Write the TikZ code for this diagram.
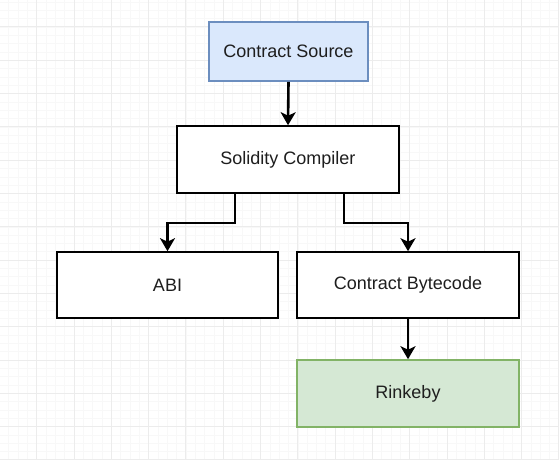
\documentclass[tikz,border=0pt]{standalone}
\usepackage{fontspec}
\setmainfont{Liberation Sans}
\usetikzlibrary{arrows.meta}
\definecolor{blueF}{HTML}{DAE8FC}
\definecolor{blueD}{HTML}{6C8EBF}
\definecolor{greenF}{HTML}{D5E8D4}
\definecolor{greenD}{HTML}{82B366}
\definecolor{gridMaj}{HTML}{ECECEC}
\definecolor{gridMin}{HTML}{F8F8F8}
\definecolor{txt}{HTML}{1E1E1E}
\tikzset{
  box/.style={draw=black, line width=1.6pt, fill=white, rectangle, inner sep=0pt,
    text=txt, font=\fontsize{18}{22}\selectfont},
  arr/.style={draw=black, line width=2.6pt,
    -{Stealth[length=13pt,width=15pt,inset=3.5pt]}},
}
\begin{document}
\begin{tikzpicture}[x=1pt,y=-1pt]
\useasboundingbox (0,0) rectangle (559,460);
\fill[white] (0,0) rectangle (559,460);
% minor grid
\foreach \i in {0,...,60} {
  \draw[gridMin, line width=0.6pt] ({-0.6+9.325*\i},0) -- ({-0.6+9.325*\i},460);
}
\foreach \j in {0,...,56} {
  \draw[gridMin, line width=0.6pt] (0,{-6.3+8.325*\j}) -- (559,{-6.3+8.325*\j});
}
% major grid
\foreach \i in {0,...,15} {
  \draw[gridMaj, line width=1pt] ({-0.6+37.3*\i},0) -- ({-0.6+37.3*\i},460);
}
\foreach \j in {0,...,14} {
  \draw[gridMaj, line width=1pt] (0,{-6.3+33.3*\j}) -- (559,{-6.3+33.3*\j});
}
% nodes
\node[box, fill=blueF, draw=blueD, minimum width=159pt, minimum height=59pt] (cs) at (288.5,51.5) {Contract Source};
\node[box, minimum width=222pt, minimum height=67pt] (sc) at (288,159.5) {Solidity Compiler};
\node[box, minimum width=221pt, minimum height=66pt] (abi) at (167.5,285) {ABI};
\node[box, minimum width=222pt, minimum height=66pt] (cb) at (408,285) {Contract Bytecode};
\node[box, fill=greenF, draw=greenD, minimum width=222pt, minimum height=67pt] (rk) at (408,393.5) {Rinkeby};
% connectors
\draw[arr] (cs.south) -- (sc.north);
\draw[arr] ([xshift=-53pt]sc.south) -- ++(0,29) -| (abi.north);
\draw[arr] ([xshift=56pt]sc.south) -- ++(0,29) -| (cb.north);
\draw[arr] (cb.south) -- (rk.north);
\end{tikzpicture}
\end{document}
